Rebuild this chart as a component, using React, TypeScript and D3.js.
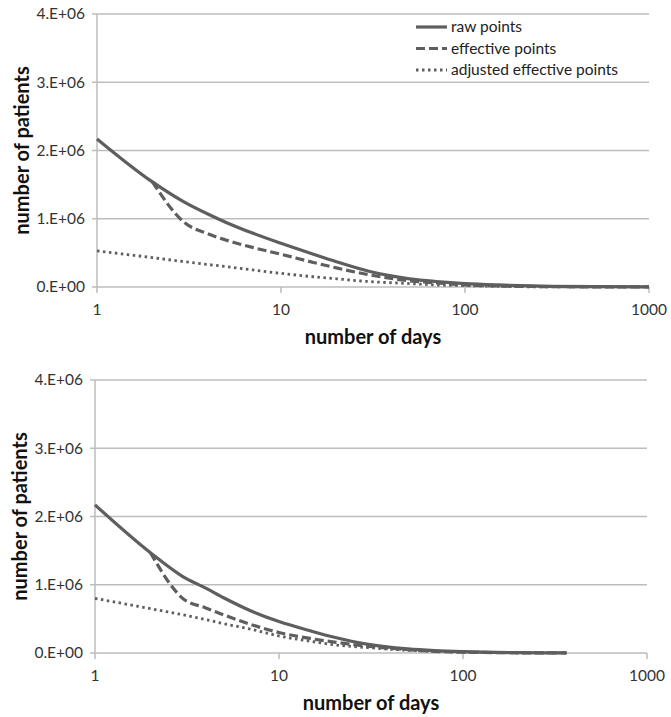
import React from 'react';
import * as d3 from 'd3';

// top panel
const daysTop = [1, 2, 3, 4, 5, 7, 10, 15, 20, 30, 50, 70, 100, 150, 200, 300, 500, 1000];
const rawTop = [2.17, 1.54, 1.24, 1.07, 0.95, 0.79, 0.64, 0.48, 0.37, 0.23, 0.12, 0.08, 0.05, 0.03, 0.02, 0.01, 0.005, 0.002];
const effTop = [null, 1.54, 0.94, 0.78, 0.69, 0.58, 0.48, 0.36, 0.28, 0.18, 0.09, 0.06, 0.03, 0.015, 0.01, 0.005, 0.002, 0.001];
const adjTop = [0.53, 0.43, 0.37, 0.33, 0.3, 0.25, 0.2, 0.15, 0.12, 0.08, 0.05, 0.03, 0.02, 0.01, 0.005, 0.002, 0.001, 0.001];

// bottom panel
const daysBottom = [1, 2, 3, 4, 5, 7, 10, 15, 20, 30, 50, 70, 100, 150, 200, 300, 365];
const rawBottom = [2.17, 1.47, 1.12, 0.95, 0.81, 0.62, 0.46, 0.32, 0.23, 0.13, 0.06, 0.035, 0.02, 0.01, 0.005, 0.002, 0.001];
const effBottom = [null, 1.47, 0.8, 0.66, 0.56, 0.42, 0.3, 0.21, 0.16, 0.1, 0.05, 0.025, 0.012, 0.006, 0.003, 0.001, 0.001];
const adjBottom = [0.8, 0.65, 0.56, 0.49, 0.43, 0.35, 0.25, 0.17, 0.12, 0.08, 0.04, 0.025, 0.012, 0.006, 0.003, 0.001, 0.001];

const xTicks = [1, 10, 100, 1000];
const yTicks = [0, 1, 2, 3, 4];
const yTickLabels = ['0.E+00', '1.E+06', '2.E+06', '3.E+06', '4.E+06'];
const legendLabels = ['raw points', 'effective points', 'adjusted effective points'];

const font = 'Lato, "Open Sans", sans-serif';
const lineColor = '#5e5e5e';
const gridColor = '#bdbdbd';
const dashes = [null, '9,4', '2.5,3.5'];

const Panel = ({ days, series, box, legend }) => {
  const { left, right, top, bottom } = box;
  const x = d3.scaleLog().domain([1, 1000]).range([left, right]);
  const y = d3.scaleLinear().domain([0, 4]).range([bottom, top]);

  const line = d3.line()
    .defined(d => d[1] != null)
    .x(d => x(d[0]))
    .y(d => y(d[1]))
    .curve(d3.curveMonotoneX);

  return (
    <g>
      {yTicks.map((t, i) => (
        <g key={t}>
          <line x1={left - 5} x2={right} y1={y(t)} y2={y(t)} stroke={gridColor} strokeWidth={1.5} />
          <text x={left - 12} y={y(t)} dy="0.35em" textAnchor="end" fontSize={15.5} fontFamily={font} fill="#333">
            {yTickLabels[i]}
          </text>
        </g>
      ))}
      <line x1={left} x2={left} y1={top} y2={bottom} stroke={gridColor} strokeWidth={1.5} />
      {xTicks.map(t => (
        <g key={t}>
          <line x1={x(t)} x2={x(t)} y1={bottom} y2={bottom + 6} stroke={gridColor} strokeWidth={1.5} />
          <text x={x(t)} y={bottom + 23} dy="0.35em" textAnchor="middle" fontSize={15.5} fontFamily={font} fill="#333">
            {t}
          </text>
        </g>
      ))}
      {series.map((s, i) => (
        <path
          key={i}
          d={line(days.map((d, j) => [d, s[j]]))}
          fill="none"
          stroke={lineColor}
          strokeWidth={i === 2 ? 2.8 : 3.2}
          strokeDasharray={dashes[i] || undefined}
        />
      ))}
      <text x={(left + right) / 2} y={bottom + 50} dy="0.35em" textAnchor="middle" fontSize={20} fontWeight="bold" fontFamily={font} fill="#111">
        number of days
      </text>
      <text
        transform={`translate(${left - 75},${(top + bottom) / 2}) rotate(-90)`}
        dy="0.35em" textAnchor="middle" fontSize={20} fontWeight="bold" fontFamily={font} fill="#111"
      >
        number of patients
      </text>
      {legend && legendLabels.map((l, i) => (
        <g key={l}>
          <line x1={416} x2={447} y1={27 + i * 21.5} y2={27 + i * 21.5} stroke={lineColor}
            strokeWidth={i === 2 ? 2.8 : 3.2} strokeDasharray={dashes[i] || undefined} />
          <text x={451} y={27 + i * 21.5} dy="0.35em" fontSize={15.5} fontFamily={font} fill="#222">{l}</text>
        </g>
      ))}
    </g>
  );
};

export default function App() {
  return (
    <svg width={671} height={717} style={{ position: 'absolute', left: 0, top: 0, background: '#fff' }}>
      <Panel
        days={daysTop}
        series={[rawTop, effTop, adjTop]}
        box={{ left: 97, right: 649, top: 14, bottom: 287 }}
        legend
      />
      <Panel
        days={daysBottom}
        series={[rawBottom, effBottom, adjBottom]}
        box={{ left: 95, right: 647, top: 380, bottom: 653 }}
        legend={false}
      />
    </svg>
  );
}
